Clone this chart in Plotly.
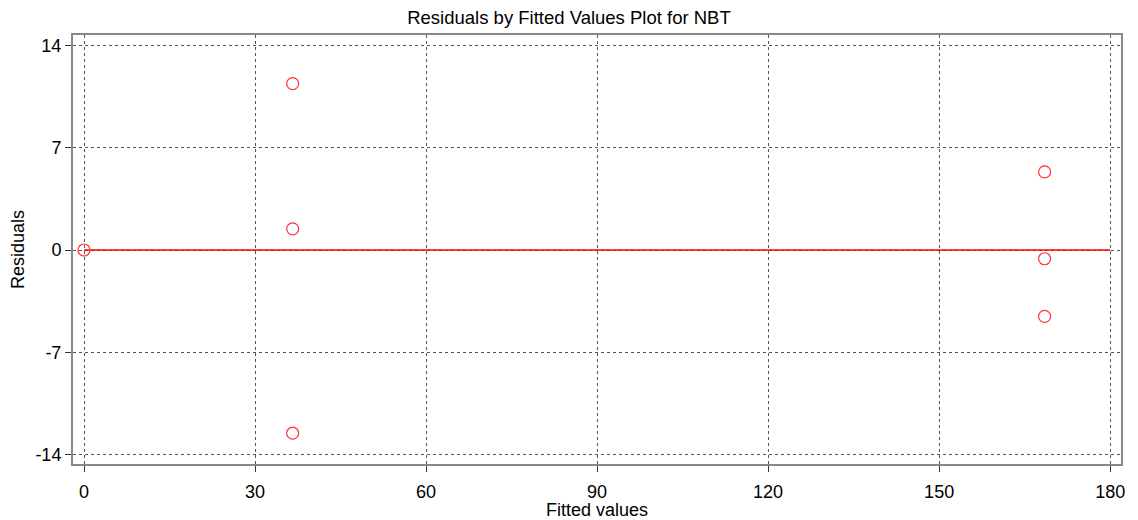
import plotly.graph_objects as go

fitted = [0.0, 36.6, 36.6, 36.6, 168.5, 168.5, 168.5]
residuals = [0.0, 11.4, 1.45, -12.55, 5.35, -0.6, -4.55]
ref_x = [0, 180]
ref_y = [0, 0]
x_ticks = [0, 30, 60, 90, 120, 150, 180]
y_ticks = [-14, -7, 0, 7, 14]

fig = go.Figure()
fig.add_trace(go.Scatter(x=ref_x, y=ref_y, mode="lines",
                         line=dict(color="red", width=1.5),
                         hoverinfo="skip", showlegend=False))
fig.add_trace(go.Scatter(x=fitted, y=residuals, mode="markers",
                         marker=dict(symbol="circle-open", size=12,
                                     color="#ff3030", line=dict(width=1.2, color="#ff3030")),
                         showlegend=False))

font = "Liberation Sans, Arial, sans-serif"
# page body adds an 8px offset, so the figure is sized to 1130x512
fig.update_layout(
    width=1130, height=512,
    margin=dict(l=65, r=17, t=27, b=56, autoexpand=False),
    paper_bgcolor="white", plot_bgcolor="white",
    title=dict(text="Residuals by Fitted Values Plot for NBT",
               x=561 / 1130, xanchor="center", y=1 - 10 / 512, yanchor="middle",
               font=dict(family=font, size=18.5, color="black")),
    font=dict(family=font, size=18, color="black"),
)
fig.update_xaxes(
    range=[-1.93, 181.9], tickvals=x_ticks, ticktext=[str(v) for v in x_ticks],
    showgrid=True, gridcolor="#555555", gridwidth=1, griddash="dot",
    zeroline=False, showline=True, linecolor="#888888", linewidth=2, mirror=True,
    ticks="outside", ticklen=6, tickcolor="#333333", ticklabelstandoff=4,
    title=dict(text="Fitted values", font=dict(size=18), standoff=10),
    tickfont=dict(size=18), automargin=False,
)
fig.update_yaxes(
    range=[-14.66, 14.73], tickvals=y_ticks, ticktext=[str(v) for v in y_ticks],
    showgrid=True, gridcolor="#555555", gridwidth=1, griddash="dot",
    zeroline=False, showline=True, linecolor="#888888", linewidth=2, mirror=True,
    ticks="outside", ticklen=6, tickcolor="#333333",
    title=dict(text="Residuals", font=dict(size=18), standoff=6),
    tickfont=dict(size=18), automargin=False,
)

fig.write_html("out.html")
